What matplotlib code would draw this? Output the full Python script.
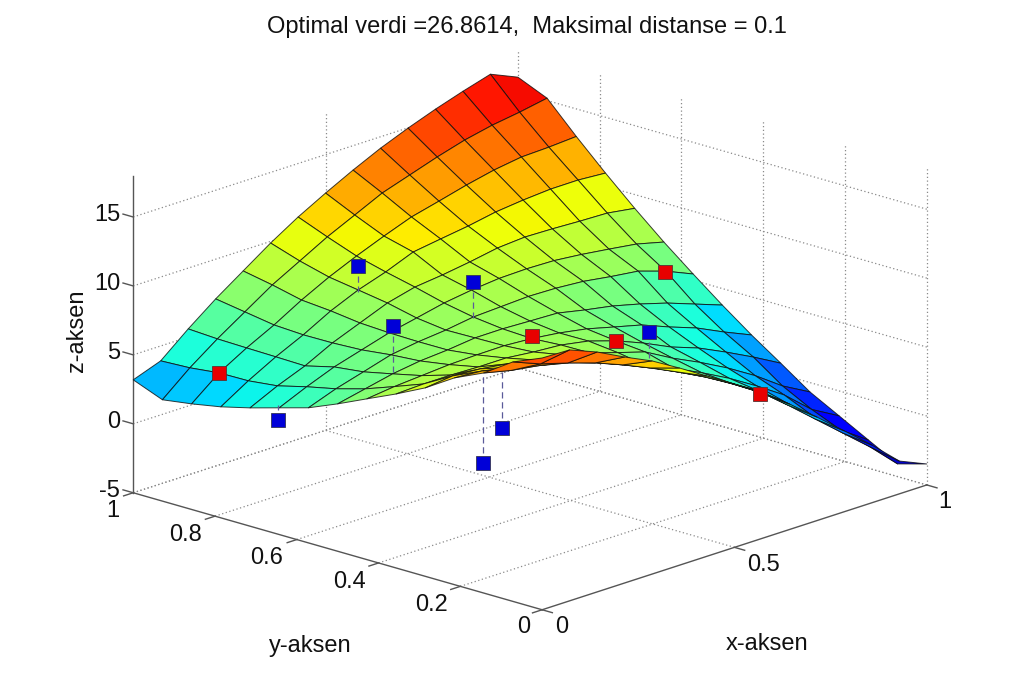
import matplotlib
matplotlib.use("Agg")
import matplotlib.pyplot as plt
import numpy as np
from mpl_toolkits.mplot3d import Axes3D  # noqa

plt.rcParams['font.family'] = ['Liberation Sans', 'DejaVu Sans']

title = "Optimal verdi =26.8614,  Maksimal distanse = 0.1"
x_label = "x-aksen"
y_label = "y-aksen"
z_label = "z-aksen"

grid_x = [0, .0714, .1429, .2143, .2857, .3571, .4286, .5, .5714, .6429, .7143, .7857, .8571, .9286, 1]
grid_y = [1, .9286, .8571, .7857, .7143, .6429, .5714, .5, .4286, .3571, .2857, .2143, .1429, .0714, 0]

surface_z = [
    [3.19, 3.92, 5.59, 7.12, 8.50, 9.88, 11.12, 12.21, 13.23, 14.17, 14.98, 15.71, 16.36, 16.95, 16.09],
    [2.35, 4.02, 5.47, 6.78, 8.09, 9.18, 10.28, 11.22, 12.17, 12.83, 13.49, 14.07, 14.50, 14.80, 15.17],
    [2.66, 4.26, 5.42, 6.44, 7.60, 8.62, 9.50, 10.30, 11.04, 11.54, 12.06, 12.50, 12.80, 12.87, 13.00],
    [3.05, 4.29, 5.38, 6.33, 7.42, 8.29, 8.95, 9.75, 10.05, 10.34, 10.71, 10.93, 11.08, 11.09, 10.95],
    [3.58, 4.53, 5.33, 6.35, 7.15, 7.95, 8.46, 8.69, 8.99, 9.35, 9.50, 9.45, 9.36, 9.30, 9.00],
    [4.19, 5.07, 5.86, 6.45, 7.04, 7.47, 7.91, 8.20, 8.40, 8.45, 8.40, 8.20, 7.94, 7.66, 7.16],
    [4.80, 5.53, 6.11, 6.70, 7.00, 7.20, 7.50, 7.60, 7.70, 7.65, 7.50, 7.20, 6.95, 6.30, 5.45],
    [5.69, 6.13, 6.57, 6.86, 7.01, 7.24, 7.25, 7.17, 7.10, 6.68, 6.32, 5.82, 5.24, 4.52, 3.80],
    [6.66, 6.90, 7.05, 7.20, 7.26, 7.28, 7.15, 6.91, 6.56, 6.05, 5.55, 4.76, 4.04, 3.10, 2.24],
    [7.62, 7.70, 7.70, 7.64, 7.64, 7.43, 7.29, 6.93, 6.30, 5.49, 4.56, 3.84, 2.90, 1.89, 0.80],
    [8.67, 8.89, 8.75, 8.47, 8.10, 7.83, 7.32, 6.70, 6.10, 5.00, 4.05, 3.00, 1.80, 0.40, -0.68],
    [10.00, 9.85, 9.45, 9.05, 8.55, 7.95, 7.20, 6.35, 5.50, 4.55, 3.50, 2.30, 1.00, -0.70, -1.81],
    [10.96, 10.50, 10.20, 9.80, 9.15, 8.35, 7.50, 6.55, 5.60, 4.40, 3.20, 1.70, 0.05, -1.60, -2.95],
    [12.37, 11.58, 11.00, 10.36, 9.57, 8.70, 7.76, 6.75, 5.60, 4.37, 2.78, 1.12, -0.54, -2.20, -4.08],
    [13.26, 13.20, 12.40, 11.39, 10.46, 9.30, 8.07, 6.85, 5.55, 4.10, 2.51, 0.86, -0.81, -2.62, -3.48],
]

blue_x = [.02, .30, .35, .50, .70, .10, .10]
blue_y = [.664, .732, .694, .64, .397, .238, .192]
blue_z = [2.96, 11.0, 6.53, 8.81, 5.44, 2.73, 5.65]
stem_z = [4.04, 9.12, 3.12, 6.20, 3.56, 9.11, 9.71]

red_x = [.10, .40, .60, .90, .80]
red_y = [.884, .401, .384, .546, .22]
red_z = [3.78, 7.83, 5.80, 6.71, 1.54]

x_ticks = [0, .5, 1]
y_ticks = [0, .2, .4, .6, .8, 1]
z_ticks = [-5, 0, 5, 10, 15]
x_ticklabels = ["0", "0.5", "1"]
y_ticklabels = ["0", "0.2", "0.4", "0.6", "0.8", "1"]
z_ticklabels = ["-5", "0", "5", "10", "15"]
zlim = (-5, 18)

W, H = 1024, 685
fig = plt.figure(figsize=(W / 100, H / 100), dpi=100, facecolor='white')
ZOOM = 1.25
S = 835.8 / ZOOM
left = 530 - .5135 * S
bottom = (H - 330.3) - .5135 * S
ax = fig.add_axes([left / W, bottom / H, S / W, S / H], projection='3d', computed_zorder=False)
ax.set_proj_type('ortho')
ax.view_init(elev=17.74, azim=-136.8)
ax.set_box_aspect((562, 561, 333), zoom=ZOOM)
ax.set_xlim(0, 1, view_margin=0)
ax.set_ylim(0, 1, view_margin=0)
ax.set_zlim(*zlim, view_margin=0)
ax.set_axis_off()

grid_kw = dict(color='#8a8a8a', lw=0.9, ls=(0, (1, 2)), zorder=1)
z0, z1 = zlim
for z in z_ticks:
    ax.plot([0, 1], [1, 1], [z, z], **grid_kw)
    ax.plot([1, 1], [0, 1], [z, z], **grid_kw)
for x in x_ticks[1:]:
    ax.plot([x, x], [1, 1], [z0, z1], **grid_kw)
    ax.plot([x, x], [0, 1], [z0, z0], **grid_kw)
for y in y_ticks[:-1]:
    ax.plot([1, 1], [y, y], [z0, z1], **grid_kw)
for y in y_ticks[1:]:
    ax.plot([0, 1], [y, y], [z0, z0], **grid_kw)

axis_kw = dict(color='#555555', lw=1.0, zorder=1.5)
ax.plot([0, 1], [0, 0], [z0, z0], **axis_kw)
ax.plot([0, 0], [0, 1], [z0, z0], **axis_kw)
ax.plot([0, 0], [1, 1], [z0, z1], **axis_kw)
for x in x_ticks:
    ax.plot([x, x], [0, -.025], [z0, z0], **axis_kw)
for y in y_ticks:
    ax.plot([0, -.025], [y, y], [z0, z0], **axis_kw)
for z in z_ticks:
    ax.plot([0, 0], [1, 1.025], [z, z], **axis_kw)

X, Y = np.meshgrid(grid_x, grid_y)
Z = np.array(surface_z)
norm = plt.Normalize(Z.min(), Z.max())
colors = plt.get_cmap('jet')(norm(Z))
colors[:-1] = colors[1:].copy()
ax.plot_surface(X, Y, Z, rstride=1, cstride=1, facecolors=colors, shade=False,
                edgecolor=(0.05, 0.05, 0.05, 0.8), linewidth=0.7, antialiased=True, zorder=2)

for bx, by, bz, sz in zip(blue_x, blue_y, blue_z, stem_z):
    ax.plot([bx, bx], [by, by], [bz, sz], color='#5a5a9a', lw=0.9, ls=(0, (5, 3)), zorder=3)
ax.plot(blue_x, blue_y, blue_z, ls='none', marker='s', ms=9.6, mfc='#0000d8', mec='#333355',
        mew=0.6, zorder=4)
ax.plot(red_x, red_y, red_z, ls='none', marker='s', ms=9.6, mfc='#e80000', mec='#553333',
        mew=0.6, zorder=4)

for artist in ax.get_children():
    artist.set_clip_on(False)


def label(px, py, text, **kw):
    fig.text(px / W, 1 - py / H, text, ha=kw.pop('ha', 'center'), va='center', color='#111111', **kw)


FS = 17
label(527, 27, title, fontsize=FS)
label(310, 646, y_label, fontsize=FS)
label(767, 644, x_label, fontsize=FS)
label(77, 331, z_label, fontsize=FS, rotation=90)
for t, (px, py) in zip(x_ticklabels, [(562, 627), (764, 565), (945, 502)]):
    label(px, py, t, fontsize=FS)
for t, (px, py) in zip(y_ticklabels, [(524, 627), (432, 605), (349, 582), (267, 558), (185, 535), (113, 511)]):
    label(px, py, t, fontsize=FS)
for t, py in zip(z_ticklabels, [491, 422, 353, 284, 215]):
    label(120, py, t, fontsize=FS, ha='right')

fig.savefig('out.png', dpi=100)
